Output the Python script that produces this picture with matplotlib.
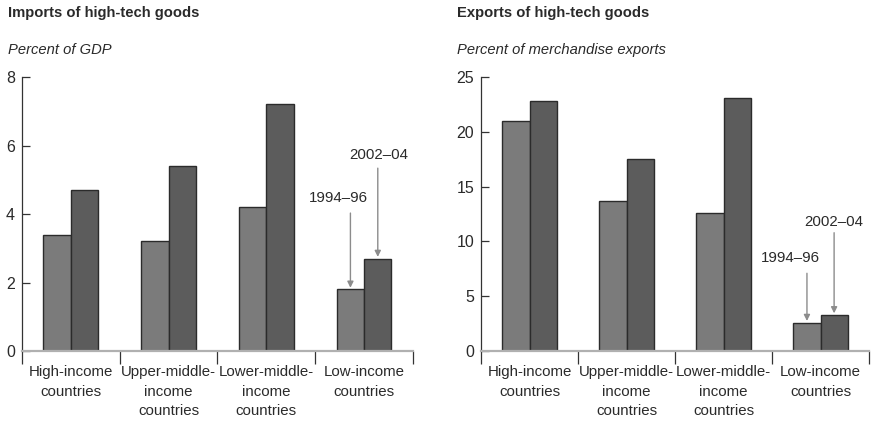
import matplotlib
matplotlib.use("Agg")
import matplotlib.pyplot as plt
import numpy as np

plt.rcParams['font.family'] = ['Liberation Sans', 'DejaVu Sans']

categories = ["High-income\ncountries", "Upper-middle-\nincome\ncountries",
              "Lower-middle-\nincome\ncountries", "Low-income\ncountries"]
periods = ["1994\u201396", "2002\u201304"]

imports_9496 = [3.4, 3.2, 4.2, 1.8]
imports_0204 = [4.7, 5.4, 7.2, 2.7]
exports_9496 = [21.0, 13.7, 12.6, 2.6]
exports_0204 = [22.8, 17.5, 23.1, 3.3]

light = '#7b7b7b'
dark = '#5c5c5c'
edge = '#2b2b2b'
arrow_col = '#8c8c8c'
txt = '#2a2a2a'
w = 0.28

fig = plt.figure(figsize=(8.72, 4.21), dpi=100)
ax1 = fig.add_axes([0.0252, 0.166, 0.4484, 0.651])
ax2 = fig.add_axes([0.5516, 0.166, 0.4450, 0.651])


def draw_panel(ax, old, new, ymax, step):
    x = np.arange(len(categories))
    ax.bar(x - w / 2, old, w, color=light, edgecolor=edge, linewidth=1.0, zorder=3)
    ax.bar(x + w / 2, new, w, color=dark, edgecolor=edge, linewidth=1.0, zorder=3)
    ax.set_xlim(-0.5, len(categories) - 0.5)
    ax.set_ylim(0, ymax)
    ax.set_yticks(np.arange(0, ymax + step / 2, step))
    ax.tick_params(axis='y', direction='in', length=6, width=0.9, color='#333333',
                   labelsize=11.5, pad=5, labelcolor=txt)
    # category boundaries as major ticks, labels on minor ticks
    ax.set_xticks(np.arange(-0.5, len(categories), 1.0))
    ax.set_xticklabels([])
    ax.tick_params(axis='x', which='major', direction='out', length=9, width=0.9,
                   color='#333333')
    ax.set_xticks(x, minor=True)
    ax.set_xticklabels(categories, minor=True)
    ax.tick_params(axis='x', which='minor', length=0, pad=10, labelsize=10.8,
                   labelcolor=txt)
    for lab in ax.get_xticklabels(minor=True):
        lab.set_linespacing(1.5)
    for s in ['top', 'right']:
        ax.spines[s].set_visible(False)
    ax.spines['left'].set_color('#333333')
    ax.spines['left'].set_linewidth(0.9)
    ax.spines['bottom'].set_color('#b0b0b0')
    ax.spines['bottom'].set_linewidth(1.6)
    ax.spines['bottom'].set_zorder(4)


def label_arrow(ax, x, top, start, ty, text, dx):
    ax.annotate('', xy=(x, top), xytext=(x, start),
                arrowprops=dict(arrowstyle='-|>', color=arrow_col, lw=1.0,
                                mutation_scale=9, shrinkA=0, shrinkB=0))
    ax.text(x + dx, ty, text, ha='center', va='center', fontsize=10.8, color=txt)


draw_panel(ax1, imports_9496, imports_0204, 8, 2)
draw_panel(ax2, exports_9496, exports_0204, 25, 5)

label_arrow(ax1, 3 - w / 2, imports_9496[3] + 0.05, 4.03, 4.47, periods[0], -0.12)
label_arrow(ax1, 3 + w / 2, imports_0204[3] + 0.05, 5.34, 5.72, periods[1], 0.01)
label_arrow(ax2, 3 - w / 2, exports_9496[3] + 0.15, 7.1, 8.5, periods[0], -0.17)
label_arrow(ax2, 3 + w / 2, exports_0204[3] + 0.15, 10.8, 11.8, periods[1], 0.0)

fig.text(0.009, 0.969, "Imports of high-tech goods", fontsize=10.6, fontweight='bold',
         color=txt, va='center')
fig.text(0.009, 0.881, "Percent of GDP", fontsize=10.6, style='italic',
         color=txt, va='center')
fig.text(0.524, 0.969, "Exports of high-tech goods", fontsize=10.6, fontweight='bold',
         color=txt, va='center')
fig.text(0.524, 0.881, "Percent of merchandise exports", fontsize=10.6, style='italic',
         color=txt, va='center')

fig.savefig("out.png", dpi=100)
